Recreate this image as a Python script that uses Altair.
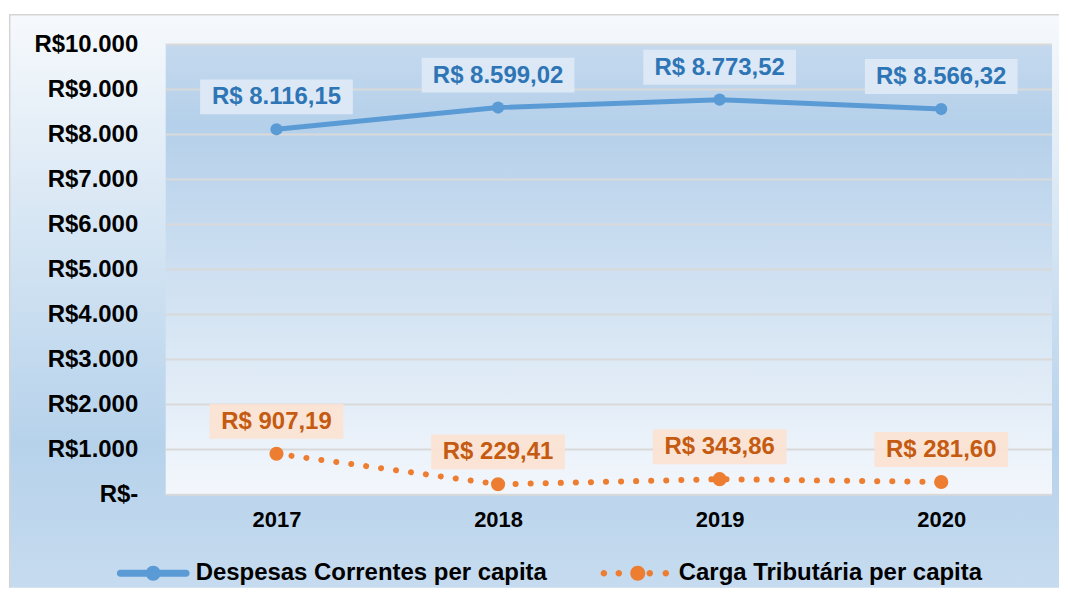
import altair as alt
import pandas as pd

# ---------------- data ----------------
years = ["2017", "2018", "2019", "2020"]
despesas = [8116.15, 8599.02, 8773.52, 8566.32]
carga = [907.19, 229.41, 343.86, 281.60]
series_names = ["Despesas Correntes per capita", "Carga Tributária per capita"]
y_ticks = [0, 1000, 2000, 3000, 4000, 5000, 6000, 7000, 8000, 9000, 10000]

BLUE = "#5b9bd5"
ORANGE = "#ed7d31"
BLUE_TXT = "#2e75b6"
ORANGE_TXT = "#c55a11"
FONT = "Liberation Sans"

W, H = 888, 451


def brl(v):
    s = f"{v:,.2f}".replace(",", "X").replace(".", ",").replace("X", ".")
    return "R$ " + s


df_d = pd.DataFrame({"year": years, "value": despesas, "label": [brl(v) for v in despesas]})
df_c = pd.DataFrame({"year": years, "value": carga, "label": [brl(v) for v in carga]})
df_ticks = pd.DataFrame({"t": y_ticks})
df_leg = pd.DataFrame({"serie": series_names})
one = pd.DataFrame({"a": [0]})

yscale = alt.Scale(domain=[0, 10000], nice=False)
yaxis = alt.Axis(
    values=y_ticks, title=None, grid=False, ticks=False, domain=False,
    labelExpr="datum.value == 0 ? 'R$-' : 'R$' + replace(format(datum.value, ','), ',', '.')",
    labelFont=FONT, labelFontSize=24, labelFontWeight="bold", labelColor="#000000",
    labelPadding=28, zindex=1,
)
xaxis = alt.Axis(
    title=None, ticks=False, domain=False, grid=False, labelAngle=0,
    labelFont=FONT, labelFontSize=22, labelFontWeight="bold", labelColor="#000000",
    labelPadding=15, zindex=1,
)
xscale = alt.Scale(domain=years)


def X():
    return alt.X("year:O", scale=xscale, axis=xaxis)


def Y(f):
    return alt.Y(f, type="quantitative", scale=yscale, axis=yaxis)


def grad(stops):
    return alt.LinearGradient(
        gradient="linear", x1=0, x2=0, y1=0, y2=1,
        stops=[alt.GradientStop(offset=o, color=c) for o, c in stops],
    )


outer_bg = alt.Chart(one).mark_rect(
    fill=grad([(0, "#f6f9fc"), (0.75, "#b6d2eb"), (1, "#c6dbef")])
).encode(x=alt.value(-157), x2=alt.value(895), y=alt.value(-29.8), y2=alt.value(544.2))

border_top = alt.Chart(one).mark_rule(color="#d4d4d4", strokeWidth=1.5).encode(
    x=alt.value(-157), x2=alt.value(895), y=alt.value(-29.8))
border_left = alt.Chart(one).mark_rule(color="#d4d4d4", strokeWidth=1.5).encode(
    x=alt.value(-156.3), y=alt.value(-29.8), y2=alt.value(544.2))

plot_bg = alt.Chart(one).mark_rect(
    fill=grad([(0, "#c4d9ee"), (0.18, "#b5d0ea"), (1, "#f3f7fc")])
).encode(x=alt.value(0), x2=alt.value(W), y=alt.value(0), y2=alt.value(H))

grid = alt.Chart(df_ticks).mark_rule(color="#d9d9d9", strokeWidth=2).encode(
    y=Y("t"), x=alt.value(0), x2=alt.value(W))

blue_line = alt.Chart(df_d).mark_line(color=BLUE, strokeWidth=5, strokeCap="round").encode(
    x=X(), y=Y("value"))
blue_pts = alt.Chart(df_d).mark_point(filled=True, color=BLUE, size=150, opacity=1).encode(
    x=X(), y=Y("value"))

orange_line = alt.Chart(df_c).mark_line(
    color=ORANGE, strokeWidth=6, strokeDash=[0.1, 15], strokeCap="round").encode(
    x=X(), y=Y("value"))
orange_pts = alt.Chart(df_c).mark_point(filled=True, color=ORANGE, size=200, opacity=1).encode(
    x=X(), y=Y("value"))


def box_path(width, height, offset):
    k = width / 2.0
    top = (-offset - height / 2.0) / k
    bot = (-offset + height / 2.0) / k
    return f"M-1,{top:.4f}L1,{top:.4f}L1,{bot:.4f}L-1,{bot:.4f}Z"


blue_box = alt.Chart(df_d).mark_point(
    filled=True, shape=box_path(153, 35, 32.5), size=153 ** 2, color="#dde9f6", opacity=0.95
).encode(x=X(), y=Y("value"))
orange_box = alt.Chart(df_c).mark_point(
    filled=True, shape=box_path(134, 35, 32.5), size=134 ** 2, color="#fbe3d3", opacity=0.95
).encode(x=X(), y=Y("value"))

blue_txt = alt.Chart(df_d).mark_text(
    font=FONT, fontSize=24, fontWeight="bold", color=BLUE_TXT, dy=-32, baseline="middle"
).encode(x=X(), y=Y("value"), text="label:N")
orange_txt = alt.Chart(df_c).mark_text(
    font=FONT, fontSize=24, fontWeight="bold", color=ORANGE_TXT, dy=-32, baseline="middle"
).encode(x=X(), y=Y("value"), text="label:N")


# legend symbols (custom paths, unit = half symbol width); all clockwise
def circ(cx, r):
    return f"M{cx - r:.3f},0A{r:.3f},{r:.3f} 0 1,1 {cx + r:.3f},0A{r:.3f},{r:.3f} 0 1,1 {cx - r:.3f},0Z"


kL = 36.5
t = 3.5 / kL
rb = 7.5 / kL
# bar split around the circle so nothing overlaps
blue_sym = (
    f"M{-1 + t:.3f},{-t:.3f}L{-rb + 0.02:.3f},{-t:.3f}L{-rb + 0.02:.3f},{t:.3f}L{-1 + t:.3f},{t:.3f}"
    f"A{t:.3f},{t:.3f} 0 0,1 {-1 + t:.3f},{-t:.3f}Z "
    f"M{rb - 0.02:.3f},{-t:.3f}L{1 - t:.3f},{-t:.3f}A{t:.3f},{t:.3f} 0 0,1 {1 - t:.3f},{t:.3f}"
    f"L{rb - 0.02:.3f},{t:.3f}Z "
    + circ(0, rb)
)
small = 3.3 / kL
orange_sym = " ".join([circ(-0.89, small), circ(-0.48, small), circ(0.04, rb),
                       circ(0.37, small), circ(0.81, small)])

leg = alt.Legend(
    title=None, orient="none", legendX=-49, legendY=493, direction="horizontal",
    labelFont=FONT, labelFontSize=24, labelFontWeight="bold", labelColor="#000000",
    symbolSize=73 ** 2, symbolStrokeWidth=0, symbolOpacity=1, labelOffset=6,
    columnPadding=52, zindex=1, labelLimit=500,
)
legend_layer = alt.Chart(df_leg).mark_point(filled=True, opacity=0, size=10).encode(
    color=alt.Color("serie:N", scale=alt.Scale(domain=series_names, range=[BLUE, ORANGE]), legend=leg),
    shape=alt.Shape("serie:N", scale=alt.Scale(domain=series_names, range=[blue_sym, orange_sym]), legend=leg),
)

chart = alt.layer(
    outer_bg, border_top, border_left, plot_bg, grid,
    blue_line, blue_pts, orange_line, orange_pts,
    blue_box, orange_box, blue_txt, orange_txt, legend_layer,
).properties(
    width=W, height=H,
    padding={"left": 0, "top": 5, "right": 0, "bottom": 0},
).configure_view(stroke=None).configure(background="#ffffff")

chart.save("out.html", embed_options={"renderer": "svg", "actions": False})
